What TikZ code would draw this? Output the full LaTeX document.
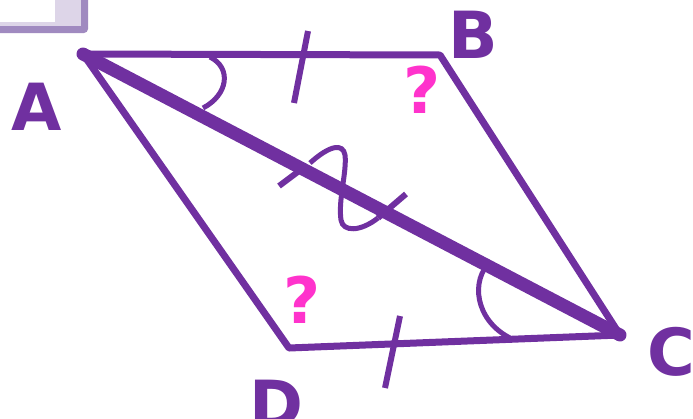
\documentclass[tikz,border=0pt]{standalone}
\usepackage{fontspec}
\setmainfont{DejaVu Sans}
\definecolor{geoPurple}{RGB}{112,48,160}
\definecolor{geoPink}{RGB}{255,51,204}
\definecolor{geoLilac}{RGB}{160,138,192}
\definecolor{geoLightLilac}{RGB}{221,213,232}
\usetikzlibrary{calc}
\tikzset{
  side/.style={draw=geoPurple,line width=7pt,line cap=round,line join=round},
  diag/.style={draw=geoPurple,line width=13pt,line cap=round},
  tickmark/.style={draw=geoPurple,line width=6pt},
  anglemark/.style={draw=geoPurple,line width=5pt},
  vlabel/.style={text=geoPurple,font=\fontsize{65}{65}\selectfont\bfseries,inner sep=0pt,anchor=base},
  qlabel/.style={text=geoPink,font=\fontsize{64}{64}\selectfont\bfseries,inner sep=0pt,anchor=base}
}

\begin{document}
\begin{tikzpicture}[x=1pt,y=-1pt]
  \useasboundingbox (0,0) rectangle (693,418);
  % corner of the frame in the top left
  \fill[geoLilac,rounded corners=4pt] (-20,-20) rectangle (88,33);
  \fill[geoLightLilac] (-20,-20) rectangle (81,26);
  \fill[white] (-20,-20) rectangle (55,22);
  % vertices
  \coordinate (A) at (83,54);
  \coordinate (B) at (440,55);
  \coordinate (C) at (620,335);
  \coordinate (D) at (289,348);
  % sides and diagonal
  \draw[side] (A) -- (B) -- (C) -- (D) -- cycle;
  \draw[diag] (A) -- (C);
  % equal sides
  \draw[tickmark] (308,31) -- (294,103);
  \draw[tickmark] (400,316) -- (385,388);
  % common side
  \draw[tickmark] (279,186) -- (303,168);
  \draw[tickmark] (378,218) -- (406,194);
  \draw[anglemark] (310,163) .. controls (330,145) and (343,143) .. (345,155)
    .. controls (347,172) and (338,200) .. (341,220)
    .. controls (343,232) and (360,232) .. (378,218);
  % equal angles
  \draw[anglemark] (210,57) .. controls (232,68) and (228,95) .. (203,108);
  \draw[anglemark] (491,261) .. controls (470,280) and (475,320) .. (510,338);
  % labels
  \node[vlabel] (labA) at (37,130) {A};
  \node[vlabel] (labB) at (473,58) {B};
  \node[vlabel,anchor=base west] (labC) at (647,375) {C};
  \node[vlabel] (labD) at (276,427) {D};
  \node[qlabel] (qB) at (422,113) {?};
  \node[qlabel] (qD) at (302,323) {?};
\end{tikzpicture}
\end{document}
